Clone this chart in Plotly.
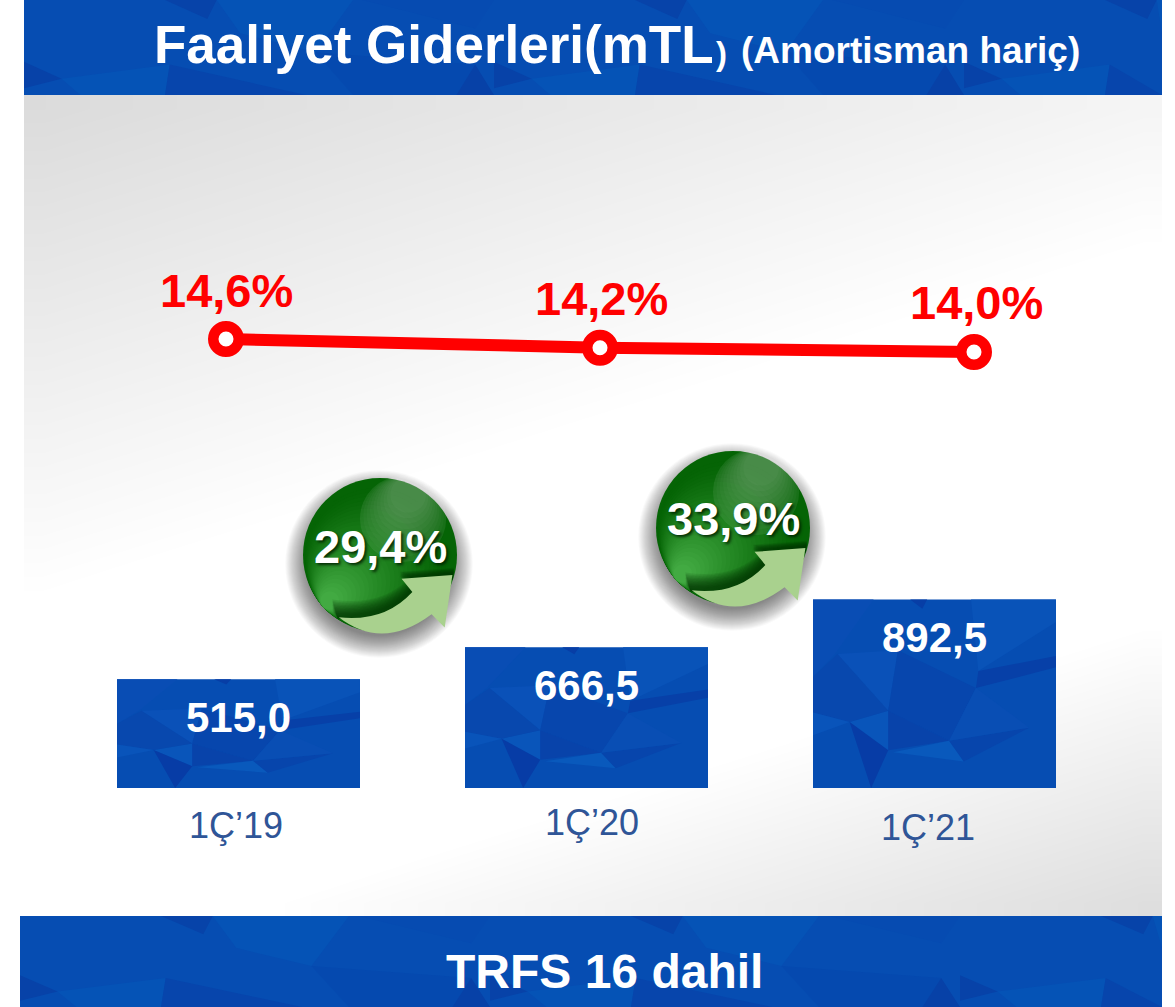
import plotly.graph_objects as go

# ---------- data ----------
periods = ["1Ç’19", "1Ç’20", "1Ç’21"]
expenses = [515.0, 666.5, 892.5]
expense_labels = ["515,0", "666,5", "892,5"]
ratios = [14.6, 14.2, 14.0]
ratio_labels = ["14,6%", "14,2%", "14,0%"]
growth_labels = ["29,4%", "33,9%"]
title_main = "Faaliyet Giderleri(mTL"
title_close = ")"
title_note = "(Amortisman hariç)"
footer = "TRFS 16 dahil"

# ---------- styling ----------
W, H = 1175, 1007
FONT = "Liberation Sans"
BLUE = "#064DB2"
RED = "#FF0000"
LABEL_BLUE = "#2F5597"
BAR_SPACING, BAR_W = 348.0, 243.0
BAR_C0, BASE_Y, BAR_PX = 238.5, 788.0, 0.2113
LINE_C0, LINE_SP, LINE_PX, LINE_Y0 = 226.0, 374.0, 21.7, 339.0
PANEL = (24, 1162, 95, 916)

# facets of the blue texture, unit coordinates of a box (u, v from the top), and colour
bar_facets = [
    ((0.00, 0.00), (0.25, 0.00), (0.09, 0.29), (0.00, 0.41), "#094DB4"),
    ((0.10, 0.29), (0.35, 0.27), (0.31, 0.59), "#0A51B8"),
    ((0.35, 0.27), (0.67, 0.47), (0.56, 0.75), (0.31, 0.59), "#0746AD"),
    ((0.15, 0.65), (0.31, 0.59), (0.31, 0.80), "#0955BA"),
    ((0.15, 0.65), (0.31, 0.80), (0.24, 1.00), "#073CA6"),
    ((0.10, 0.29), (0.31, 0.59), (0.15, 0.65), (0.00, 0.60), (0.00, 0.41), "#0848AE"),
    ((0.31, 0.59), (0.56, 0.75), (0.31, 0.80), "#0843AA"),
    ((0.33, 0.81), (0.56, 0.75), (0.62, 0.86), "#0959BC"),
    ((0.56, 0.75), (0.89, 0.68), (0.62, 0.86), "#0745AC"),
    ((0.67, 0.47), (0.89, 0.68), (0.56, 0.75), "#094EB4"),
    ((0.68, 0.38), (1.00, 0.30), (1.00, 0.36), (0.67, 0.47), "#0740A8"),
    ((0.65, 0.00), (1.00, 0.00), (1.00, 0.12), (0.68, 0.38), "#0953B8"),
    ((0.40, 0.00), (0.47, 0.00), (0.45, 0.05), "#073EA6"),
    ((0.00, 0.60), (0.15, 0.65), (0.00, 0.72), "#0954BA"),
]
# facets of the banner texture, in fractions of a tile, repeated along the banner
banner_facets = [
    ((0.00, 0.65), (0.08, 0.83), (0.00, 0.93), "#0742A8"),
    ((0.08, 0.83), (0.31, 0.68), (0.30, 1.00), (0.12, 1.00), "#0553B6"),
    ((0.31, 0.68), (0.60, 1.00), (0.30, 1.00), "#0745AC"),
    ((0.30, 0.00), (0.41, 0.00), (0.39, 0.20), "#0743A9"),
    ((0.41, 0.00), (0.70, 0.00), (0.62, 0.55), (0.46, 0.35), "#0553B6"),
    ((0.62, 0.55), (0.96, 0.68), (0.92, 1.00), (0.70, 1.00), "#0549AF"),
    ((0.96, 0.68), (1.00, 1.00), (0.92, 1.00), "#0741A7"),
    ((0.72, 0.00), (1.00, 0.00), (0.96, 0.30), "#064BB1"),
]

shapes = []


def rect(x0, x1, y0, y1, color):
    shapes.append(dict(type="rect", xref="x", yref="y", x0=x0, x1=x1, y0=y0, y1=y1,
                       fillcolor=color, line_width=0))


def polygon(points, color, xref="x", yref="y"):
    path = "M" + " L".join(f"{x:.3f},{y:.3f}" for x, y in points) + " Z"
    shapes.append(dict(type="path", xref=xref, yref=yref, path=path, fillcolor=color, line_width=0))


def banner(x0, x1, y0, y1, tile=470.0):
    rect(x0, x1, y0, y1, BLUE)
    h = y1 - y0
    start = x0
    while start < x1:
        for facet in banner_facets:
            pts = [(min(x1, start + u * tile), y0 + v * h) for u, v in facet[:-1]]
            polygon(pts, facet[-1])
        start += tile


def circle(cx, cy, r, color):
    shapes.append(dict(type="circle", xref="x", yref="y", x0=cx - r, x1=cx + r,
                       y0=cy - r, y1=cy + r, fillcolor=color, line_width=0))


def mix(a, b, t):
    return "rgb(" + ",".join(str(round(p + (q - p) * t)) for p, q in zip(a, b)) + ")"


def sphere(cx, cy, r):
    for k in range(24):
        circle(cx - 1, cy + 9, r + (24 - k) * 0.95 - 6, "rgba(0,0,0,0.022)")
    circle(cx, cy, r, "#056405")
    n = 26
    dx, dy = -0.74, 0.67
    for k in range(n):
        rk = r * (0.92 - 0.80 * k / (n - 1))
        circle(cx + dx * (r - rk), cy + dy * (r - rk), rk,
               mix((5, 100, 5), (66, 170, 66), (k / (n - 1)) ** 1.3))
    hx, hy, hr = cx + 0.30 * r, cy - 0.47 * r, 0.56 * r
    for k in range(10):
        rk = hr * (1 - 0.065 * k)
        circle(hx + 0.2 * (hr - rk), hy - 0.95 * (hr - rk), rk,
               "rgba(255,255,255,0.08)" if k == 0 else "rgba(255,255,255,0.028)")

    def p(u, v):
        return f"{cx + u * r:.2f},{cy + v * r:.2f}"

    for j in range(10):
        off = 0.02 + 0.018 * j
        shade = (f"M{p(-0.62, 0.76 - off)} Q{p(0.03, 0.86 - off)} {p(0.40, 0.46 - off)} L{p(0.26, 0.29 - off * 0.4)} "
                 f"L{p(0.96, 0.24 - off * 0.4)} L{p(0.94, 0.32)} L{p(0.42, 0.50)} Q{p(0.06, 0.90)} {p(-0.55, 0.82)} Z")
        shapes.append(dict(type="path", xref="x", yref="y", path=shade,
                           fillcolor="rgba(0,50,0,0.11)", line_width=0))
    arrow = (f"M{p(-0.535, 0.81)} Q{p(0.06, 0.875)} {p(0.42, 0.48)} L{p(0.28, 0.31)} "
             f"L{p(0.94, 0.26)} L{p(0.84, 0.94)} L{p(0.67, 0.77)} "
             f"Q{p(0.03, 1.25)} {p(-0.535, 0.81)} Z")
    shapes.append(dict(type="path", xref="x", yref="y", path=arrow,
                       fillcolor="#A9D18E", line_width=0))


# ---------- panel gradient: a coarse heat map on the pixel axes ----------
N = 30
xb = [PANEL[0] + (PANEL[1] - PANEL[0]) * i / N for i in range(N + 1)]
yb = [PANEL[2] + (PANEL[3] - PANEL[2]) * j / N for j in range(N + 1)]
xc = [(a + b) / 2 for a, b in zip(xb, xb[1:])]
yc = [(a + b) / 2 for a, b in zip(yb, yb[1:])]
z = [[0.000268 * (x - PANEL[0]) + 0.000847 * (y - PANEL[2]) for x in xc] for y in yc]

fig = go.Figure()
fig.add_trace(go.Heatmap(
    x=xb, y=yb, z=z, zmin=0, zmax=1, zsmooth="best", showscale=False, hoverinfo="skip",
    colorscale=[[0, "#DADADA"], [0.43, "#FFFFFF"], [0.75, "#FFFFFF"], [1, "#DCDCDC"]],
))
fig.add_trace(go.Bar(x=periods, y=expenses, width=BAR_W / BAR_SPACING, marker_color=BLUE,
                     marker_line_width=0, xaxis="x2", yaxis="y2", hoverinfo="skip"))
fig.add_trace(go.Scatter(
    x=periods, y=ratios, mode="lines+markers", xaxis="x3", yaxis="y3", hoverinfo="skip",
    line=dict(color=RED, width=12),
    marker=dict(size=25.5, color="#FFFFFF", line=dict(color=RED, width=10.5)),
))

# bar texture: anchored on each bar through the bar axes
half = BAR_W / BAR_SPACING / 2
for i, v in enumerate(expenses):
    for facet in bar_facets:
        pts = [(i - half + 2 * half * a, v * (1 - b)) for a, b in facet[:-1]]
        polygon(pts, facet[-1], "x2", "y2")

banner(24, 1162, 0, 95)
banner(20, 1162, 916, 1007)
sphere(380, 555, 77)
sphere(733, 528, 77)


def text(s, x, y, size, color="#FFFFFF", bold=True, anchor="center", xref="x", yref="y", shadow=None, yshift=0):
    font = dict(family=FONT, size=size, color=color, weight="bold" if bold else "normal")
    if shadow:
        font["shadow"] = shadow
    return dict(text=s, x=x, y=y, xref=xref, yref=yref, showarrow=False, xanchor=anchor,
                yanchor="middle", font=font, yshift=yshift)


annotations = [
    text(title_main, 152, 44, 53, anchor="left"),
    text(title_close, 714, 53, 33, anchor="left"),
    text(title_note, 739, 50, 37, anchor="left"),
    text(footer, 604, 971, 48),
]
for p, v, s in zip(periods, expenses, expense_labels):
    annotations.append(text(s, p, v, 42, xref="x2", yref="y2", yshift=-38))
for p, v, s, dx, dy in zip(periods, ratios, ratio_labels, (0, 1, 2), (49, 49, 50)):
    a = text(s, p, v, 47, color=RED, xref="x3", yref="y3", yshift=dy)
    a["xshift"] = dx
    annotations.append(a)
for s, x, y in zip(growth_labels, (380, 733), (546, 518)):
    annotations.append(text(s, x, y, 47, shadow="2px 2px 3px rgba(0,30,0,0.85)"))
for s, x, y in zip(periods, (236, 592, 928), (825, 822, 827)):
    annotations.append(text(s, x, y, 36, color=LABEL_BLUE, bold=False))

hidden = dict(visible=False, fixedrange=True)
bar_top = BASE_Y / BAR_PX
fig.update_layout(
    width=W, height=H, margin=dict(l=0, r=0, t=0, b=0), autosize=False,
    paper_bgcolor="#FFFFFF", plot_bgcolor="rgba(0,0,0,0)", showlegend=False, dragmode=False,
    xaxis=dict(range=[0, W], **hidden),
    yaxis=dict(range=[H, 0], **hidden),
    xaxis2=dict(type="category", categoryorder="array", categoryarray=periods, overlaying="x",
                range=[-BAR_C0 / BAR_SPACING, (W - BAR_C0) / BAR_SPACING], **hidden),
    yaxis2=dict(overlaying="y", range=[-(H - BASE_Y) / BAR_PX, bar_top], **hidden),
    xaxis3=dict(type="category", categoryorder="array", categoryarray=periods, overlaying="x",
                range=[-LINE_C0 / LINE_SP, (W - LINE_C0) / LINE_SP], **hidden),
    yaxis3=dict(overlaying="y",
                range=[ratios[0] - (H - LINE_Y0) / LINE_PX, ratios[0] + LINE_Y0 / LINE_PX], **hidden),
    shapes=shapes, annotations=annotations,
)

fig.write_html("out.html", config={"displayModeBar": False},
               post_script="document.body.style.margin='0';document.body.style.overflow='hidden';")
